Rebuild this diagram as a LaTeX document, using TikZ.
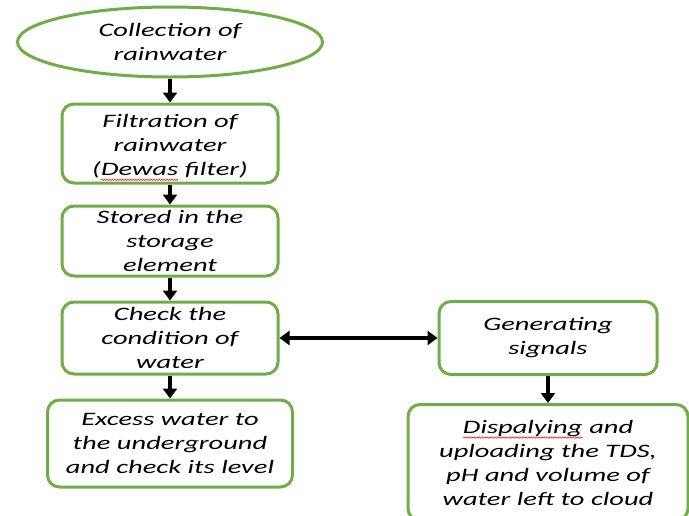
\documentclass[tikz,border=0pt]{standalone}
\usepackage{fontspec}
\setmainfont{Carlito}[FakeStretch=1.5]
\usetikzlibrary{arrows.meta,positioning,shapes.geometric,decorations.pathmorphing}
\definecolor{flowgreen}{RGB}{112,173,71}
% red spell-check squiggle under a word
\newcommand\typowave[1]{\tikz[baseline=(w.base), x=1pt, y=1pt]{%
   \node[rectangle, inner sep=0pt, outer sep=0pt, draw=none, fill=none,
         minimum width=0pt, minimum height=0pt] (w) {#1};
   \draw[red, line width=0.5pt, sharp corners, decorate,
         decoration={snake, amplitude=0.7pt, segment length=2.6pt}]
      ([yshift=-4.5pt]w.base west) -- ([yshift=-4.5pt]w.base east);}}
\tikzset{
    flowbox/.style   = {rectangle, draw=flowgreen, fill=white, line width=3pt,
                        rounded corners=12pt, align=center, inner sep=2pt,
                        minimum width=216pt},
    startnode/.style = {ellipse, draw=flowgreen, fill=white, line width=3pt,
                        align=center, minimum width=305pt, minimum height=70pt},
    flowarrow/.style = {-{Triangle[length=10pt,width=14pt]}, line width=3.5pt},
    botharrow/.style = {{Triangle[length=10pt,width=14pt]}-{Triangle[length=10pt,width=14pt]},
                        line width=3.5pt}
}
\begin{document}
\begin{tikzpicture}[
   x=1pt, y=-1pt,
   node distance = 23pt,
   every node/.append style = {font=\fontsize{19}{24}\selectfont\itshape}
]
\useasboundingbox (0,0) rectangle (689,515);
\node[startnode] (collect) at (170,42) {Collection of\\rainwater};
\node[flowbox, minimum height=79pt, below=24pt of collect] (filter)
   {\rule{0pt}{21pt}Filtration of\\rainwater\\(\typowave{Dewas} filter)};
\node[flowbox, minimum height=70pt, below=20pt of filter] (store)
   {Stored in the\\storage\\element};
\node[flowbox, minimum height=72pt, below=of store] (check)
   {Check the\\condition of\\water};
\node[flowbox, minimum width=245pt, minimum height=87pt, below=of check] (excess)
   {Excess water to\\the underground\\and check its level};
\node[flowbox, minimum width=218pt, minimum height=73pt, right=158pt of check] (signal)
   {Generating\\signals};
\node[flowbox, minimum width=280pt, minimum height=116pt, below=27pt of signal] (display)
   {\typowave{Dispalying} and\\uploading the TDS,\\pH and volume of\\water left to cloud};
\foreach \a/\b in {collect/filter,filter/store,store/check,check/excess,signal/display}
   \draw[flowarrow] (\a) -- (\b);
\draw[botharrow] (check) -- (signal);
\end{tikzpicture}
\end{document}
